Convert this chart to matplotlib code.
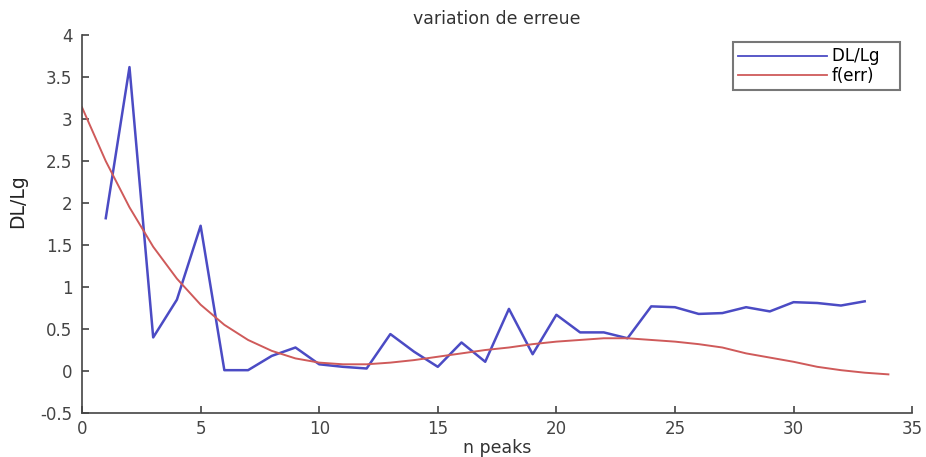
import matplotlib
matplotlib.use("Agg")
import matplotlib.pyplot as plt

# measured ratio DL/Lg per number of peaks
n_peaks = list(range(1, 34))
dl_lg = [1.82, 3.62, 0.40, 0.85, 1.73, 0.01, 0.01, 0.18, 0.28, 0.08,
         0.05, 0.03, 0.44, 0.23, 0.05, 0.34, 0.11, 0.74, 0.20, 0.67,
         0.46, 0.46, 0.39, 0.77, 0.76, 0.68, 0.69, 0.76, 0.71, 0.82,
         0.81, 0.78, 0.83]

# fitted error curve f(err)
x_fit = list(range(0, 35))
f_err = [3.14, 2.50, 1.95, 1.48, 1.10, 0.79, 0.55, 0.37, 0.24, 0.15,
         0.10, 0.08, 0.08, 0.10, 0.13, 0.17, 0.21, 0.25, 0.28, 0.32,
         0.35, 0.37, 0.39, 0.39, 0.37, 0.35, 0.32, 0.28, 0.21, 0.16,
         0.11, 0.05, 0.01, -0.02, -0.04]

x_ticks = [0, 5, 10, 15, 20, 25, 30, 35]
y_ticks = [-0.5, 0, 0.5, 1, 1.5, 2, 2.5, 3, 3.5, 4]
y_tick_labels = ["-0.5", "0", "0.5", "1", "1.5", "2", "2.5", "3", "3.5", "4"]

plt.rcParams['font.family'] = ['DejaVu Sans']

fig = plt.figure(figsize=(9.26, 4.57), dpi=100)
ax = fig.add_axes([0.0886, 0.0963, 0.8964, 0.8267])

ax.plot(n_peaks, dl_lg, color='#4b4bc4', linewidth=1.8, label='DL/Lg   ')
ax.plot(x_fit, f_err, color='#cf5a5a', linewidth=1.4, label='f(err)')

ax.set_xlim(0, 35)
ax.set_ylim(-0.5, 4)
ax.set_xticks(x_ticks)
ax.set_yticks(y_ticks)
ax.set_yticklabels(y_tick_labels)

for side in ['top', 'right']:
    ax.spines[side].set_visible(False)
for side in ['left', 'bottom']:
    ax.spines[side].set_color('#444444')
    ax.spines[side].set_linewidth(1.2)
ax.tick_params(direction='in', length=5, width=1.2, colors='#444444',
               labelsize=12, labelcolor='#444444')
ax.tick_params(axis='y', pad=7)
ax.tick_params(axis='x', pad=5)

ax.set_title('variation de erreue', fontsize=12.5, color='#333333', pad=8)
ax.set_xlabel('n peaks', fontsize=12.5, color='#333333', labelpad=1)
ax.set_ylabel('DL/Lg', fontsize=13.5, color='#222222')
ax.yaxis.set_label_coords(-0.066, 0.56)

leg = ax.legend(loc='upper right', bbox_to_anchor=(0.9855, 0.981),
                borderaxespad=0, fontsize=12, frameon=True, fancybox=False,
                handlelength=5.3, handletextpad=0.3, borderpad=0.3,
                labelspacing=0.1)
leg.get_frame().set_edgecolor('#555555')
leg.get_frame().set_linewidth(1.5)
for line in leg.get_lines():
    line.set_linewidth(1.3)

fig.savefig('out.png', dpi=100)
